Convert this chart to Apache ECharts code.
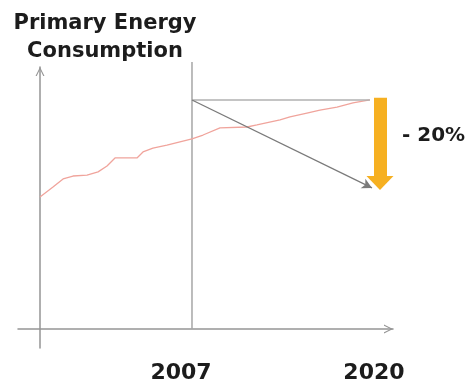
<!DOCTYPE html>
<html>
<head>
<meta charset="utf-8">
<script src="https://cdn.jsdelivr.net/npm/echarts@6/dist/echarts.min.js"></script>
<style>html,body{margin:0;padding:0;background:#fff}#c{width:473px;height:385px}</style>
</head>
<body>
<div id="c"></div>
<script>
// ---- data ----
const years = [1996.14, 1997.07, 1997.79, 1998.5, 1999.5, 2000.29, 2000.93, 2001.5, 2002.07, 2003.07, 2003.5, 2004.21, 2005.21, 2006.14, 2007.0, 2007.79, 2009.0, 2010.93, 2011.64, 2013.29, 2014.0, 2015.21, 2016.14, 2017.36, 2018.5, 2019.71];
const consumption = [57.6, 62.0, 65.5, 66.8, 67.2, 68.6, 71.2, 74.7, 74.7, 74.7, 77.3, 79.0, 80.3, 81.7, 83.0, 84.7, 87.8, 88.2, 89.1, 91.3, 92.6, 94.3, 95.6, 96.9, 98.7, 100];
const tickYears = [2007, 2020];
const baseYear = 2007;
const baseLineTop = 116.6;   // top of the 2007 divider
const levelNow = 100;        // flat projection level
const levelEndYear = 2019.71;
const trendEnd = [2019.86, 61.6];   // end of the grey trend arrow
const reductionX = 2020.43;  // position of the orange reduction arrow
const reductionFrom = 100;
const reductionTo = 60.7;
const reductionLabel = '- 20%';
const titleLines = ['Primary Energy', 'Consumption'];

const chart = echarts.init(document.getElementById('c'), null, {renderer: 'canvas'});
const axisColor = '#959595';
const chevron = 'path://M0,10 L5,0 L10,10 L8.6,10 L5,2.6 L1.4,10 Z';
const FONT = 'DejaVu Sans';
const labelStyle = {fontFamily: FONT, fontWeight: 'bold', fontSize: 22, color: '#1c1c1c'};

chart.setOption({
  animation: false,
  backgroundColor: '#fff',
  grid: {left: 18, right: 80, top: 67, bottom: 37, outerBoundsMode: 'none', containLabel: false},
  graphic: [
    {type: 'text', x: 105, y: 10, style: {text: titleLines.join('\n'), fontFamily: FONT, fontWeight: 'bold', fontSize: 21, fill: '#1c1c1c', align: 'center', lineHeight: 28}},
    {type: 'text', x: 402, y: 126, style: {text: reductionLabel, fontFamily: FONT, fontWeight: 'bold', fontSize: 20, fill: '#1c1c1c'}}
  ],
  xAxis: {
    type: 'value', min: 1994.57, max: 2021.36,
    splitLine: {show: false}, axisTick: {show: false},
    axisLine: {show: true, onZero: true, lineStyle: {color: axisColor, width: 1.5}, symbol: ['none', chevron], symbolSize: [9, 9], symbolOffset: [0, -4.5]},
    axisLabel: {
      customValues: tickYears, margin: 14, hideOverlap: false,
      fontFamily: FONT, fontWeight: 'bold', fontSize: 22, color: '#1c1c1c',
      formatter: v => (v === baseYear ? '{a|' + v + '}' : '{b|' + v + '}'),
      rich: {
        a: Object.assign({padding: [0, 22, 0, 0]}, labelStyle),
        b: Object.assign({}, labelStyle)
      }
    }
  },
  yAxis: {
    type: 'value', min: -8.3, max: 114.4, offset: -22,
    splitLine: {show: false}, axisTick: {show: false}, axisLabel: {show: false},
    axisLine: {show: true, onZero: false, lineStyle: {color: axisColor, width: 1.5}, symbol: ['none', chevron], symbolSize: [9, 9], symbolOffset: [0, -4.5]}
  },
  series: [{
    type: 'line',
    data: [[baseYear, 0], [baseYear, baseLineTop]],
    clip: false, showSymbol: false, symbol: 'none', silent: true,
    lineStyle: {color: '#a6a6a6', width: 1.5},
    z: 2
  }, {
    type: 'line',
    data: years.map((y, i) => [y, consumption[i]]),
    showSymbol: false, symbol: 'none', smooth: false,
    lineStyle: {color: '#f0a49c', width: 1.3},
    z: 3,
    markLine: {
      silent: true, animation: false, precision: 4,
      label: {show: false},
      data: [
        [{coord: [baseYear, levelNow], symbol: 'none', lineStyle: {color: '#b0b0b0', width: 1.5, type: 'solid'}}, {coord: [levelEndYear, levelNow], symbol: 'none'}],
        [{coord: [baseYear, levelNow], symbol: 'none', lineStyle: {color: '#7a7a7a', width: 1.3, type: 'solid'}}, {coord: trendEnd, symbol: 'arrow', symbolSize: [8, 10]}],
        [{coord: [reductionX, reductionFrom + 1], symbol: 'none', lineStyle: {color: '#f6b021', width: 13, type: 'solid'}}, {coord: [reductionX, reductionTo + 3], symbol: 'triangle', symbolSize: [27, 14]}]
      ]
    }
  }]
});
</script>
</body>
</html>
